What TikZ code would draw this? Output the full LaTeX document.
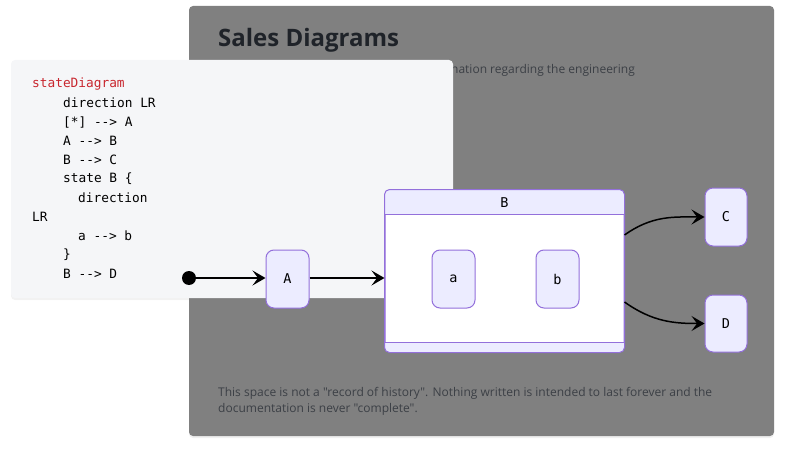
\documentclass[tikz,border=0pt]{standalone}
\usepackage{fontspec}
\newfontfamily\uifont{Open Sans}
\setmonofont{DejaVu Sans Mono}
\usetikzlibrary{arrows.meta, shadows}
\definecolor{panelgray}{HTML}{808080}
\definecolor{codebg}{HTML}{F5F6F8}
\definecolor{kwred}{HTML}{C8262E}
\definecolor{titleink}{HTML}{1F2329}
\definecolor{textink}{HTML}{3C4046}
\definecolor{statefill}{HTML}{ECECFF}
\definecolor{stateedge}{HTML}{9370DB}
\tikzstyle{state}  = [rectangle, draw=stateedge, fill=statefill, line width=1pt, rounded corners=8pt, minimum width=43pt, minimum height=58pt, inner sep=0pt, font=\ttfamily\fontsize{13.5}{15}\selectfont]
\tikzstyle{codeln} = [anchor=west, inner sep=0pt, font=\ttfamily\fontsize{12.8}{15}\selectfont]
\tikzstyle{note}   = [anchor=west, inner sep=0pt, text=textink, font=\uifont\fontsize{12}{16}\selectfont]
\tikzstyle{trans}  = [draw, line width=1.5pt, -{Stealth[length=13pt, width=15pt, inset=5.5pt]}]

\begin{document}
\begin{tikzpicture}[x=1pt, y=-1pt]
    \useasboundingbox (0,0) rectangle (785,452);
    % page panel
    \fill[panelgray, rounded corners=4pt, drop shadow={opacity=0.12, shadow xshift=0pt, shadow yshift=-2pt}] (189,6) rectangle (774,436);
    \node[anchor=base west, inner sep=0pt, text=titleink, font=\uifont\bfseries\fontsize{24}{28}\selectfont] (title) at (218,47) {Sales Diagrams};
    \node[note] (intro) at (451,70) {nation regarding the engineering};
    \node[note] (foot1) at (218,393) {This space is not a "record of history". Nothing written is intended to last forever and the};
    \node[note] (foot2) at (218,409) {documentation is never "complete".};
    % code block
    \fill[codebg, rounded corners=4pt, drop shadow={opacity=0.10, shadow xshift=0pt, shadow yshift=-2pt}] (11,60) rectangle (453,298);
    \foreach \cx/\txt [count=\i] in {32/{\color{kwred}stateDiagram}, 63/direction LR, 63/[*] -{}-> A, 63/A -{}-> B, 63/B -{}-> C, 63/state B \{, 78/direction, 32/LR, 78/a -{}-> b, 63/\}, 63/B -{}-> D}
        \node[codeln] (code\i) at (\cx, 65+19*\i) {\txt};
    % states
    \node[circle, fill=black, minimum size=14pt, inner sep=0pt] (init) at (189,278) {};
    \node[state] (A) at (287.5,279) {A};
    \node[state, fill=white, rounded corners=5pt, minimum width=239pt, minimum height=162pt] (B) at (504.5,271) {};
    \begin{scope}
        \clip[rounded corners=5pt] (B.north west) rectangle (B.south east);
        \fill[statefill] (B.north west) rectangle ([yshift=-25pt]B.north east);
        \fill[statefill] ([yshift=10pt]B.south west) rectangle (B.south east);
    \end{scope}
    \draw[stateedge, line width=1pt] ([yshift=-25pt]B.north west) -- ([yshift=-25pt]B.north east);
    \draw[stateedge, line width=1pt] ([yshift=10pt]B.south west) -- ([yshift=10pt]B.south east);
    \draw[stateedge, line width=1pt, rounded corners=5pt] (B.north west) rectangle (B.south east);
    \node[font=\ttfamily\fontsize{13.5}{15}\selectfont] (Blabel) at (504.5,203) {B};
    \node[state] (a) at (453.5,279) {a};
    \node[state] (b) at (557.5,279) {b};
    \node[state, minimum width=42pt] (C) at (726,217) {C};
    \node[state, minimum width=42pt, minimum height=57pt] (D) at (726,323.5) {D};
    % transitions
    \path[trans] (init) -- (A.west |- init);
    \path[trans] (A.east |- init) -- (B.west |- init);
    \path[trans] ([yshift=36pt]B.east) .. controls +(28,-20) and +(-30,0) .. (C.west);
    \path[trans] ([yshift=-31pt]B.east) .. controls +(28,20) and +(-30,0) .. (D.west);
\end{tikzpicture}
\end{document}
